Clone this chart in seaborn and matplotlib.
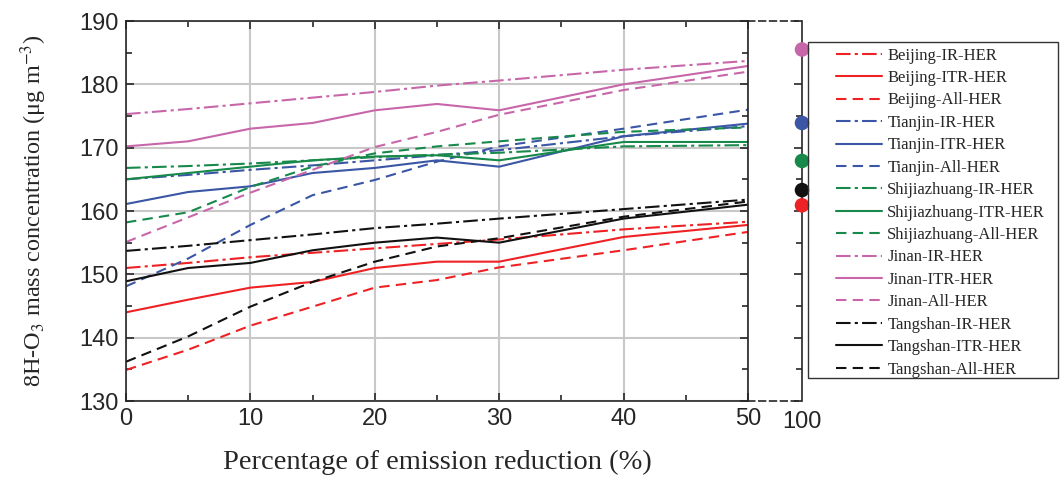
import numpy as np
import pandas as pd
import matplotlib
matplotlib.use("Agg")
import matplotlib.pyplot as plt
from matplotlib.patches import Rectangle
from matplotlib.ticker import MultipleLocator
import seaborn as sns

sns.set_style("ticks")
plt.rcParams['font.family'] = ['Liberation Serif', 'DejaVu Serif']
plt.rcParams['mathtext.fontset'] = 'stix'

# emission reduction (%)
reduction = [0, 5, 10, 15, 20, 25, 30, 40, 50]

beijing_ir = [151.0, 151.8, 152.7, 153.4, 154.1, 154.8, 155.5, 157.1, 158.3]
beijing_itr = [144.0, 146.0, 147.9, 148.8, 151.0, 152.0, 152.0, 155.9, 157.8]
beijing_all = [134.9, 138.1, 141.9, 144.9, 147.9, 149.1, 151.1, 153.8, 156.7]
tianjin_ir = [165.0, 165.7, 166.5, 167.2, 168.0, 168.8, 169.6, 171.8, 173.4]
tianjin_itr = [161.1, 163.0, 163.9, 166.0, 166.8, 168.0, 167.0, 171.8, 173.8]
tianjin_all = [148.1, 152.5, 157.8, 162.5, 164.9, 167.8, 170.2, 173.0, 176.0]
shijiazhuang_ir = [166.8, 167.1, 167.5, 168.0, 168.5, 168.9, 169.2, 170.2, 170.4]
shijiazhuang_itr = [165.0, 166.0, 167.0, 168.0, 168.6, 168.8, 168.0, 170.9, 170.9]
shijiazhuang_all = [158.2, 159.8, 163.8, 167.0, 169.1, 170.2, 171.0, 172.5, 173.2]
jinan_ir = [175.3, 176.1, 177.0, 177.9, 178.8, 179.8, 180.6, 182.3, 183.7]
jinan_itr = [170.2, 171.0, 173.0, 173.9, 175.9, 176.9, 175.9, 180.0, 182.9]
jinan_all = [155.1, 159.0, 162.9, 166.5, 170.1, 172.5, 175.2, 179.1, 182.0]
tangshan_ir = [153.7, 154.5, 155.4, 156.3, 157.3, 158.0, 158.8, 160.3, 161.8]
tangshan_itr = [148.9, 151.0, 151.8, 153.8, 155.0, 155.8, 155.0, 158.8, 161.0]
tangshan_all = [136.2, 140.2, 144.9, 148.8, 152.0, 154.4, 155.7, 159.1, 161.5]

# 100 % reduction
cities = ['Jinan', 'Tianjin', 'Shijiazhuang', 'Tangshan', 'Beijing']
full_reduction = [185.5, 173.9, 167.9, 163.3, 160.9]

colors = {'Beijing': '#ee2225', 'Tianjin': '#3a56a5', 'Shijiazhuang': '#17894a',
          'Jinan': '#c866aa', 'Tangshan': '#111111'}
styles = {'IR': (0, (7, 2, 1.5, 2)), 'ITR': '-', 'All': (0, (5, 3))}

series = [
    ('Beijing', 'IR', beijing_ir), ('Beijing', 'ITR', beijing_itr), ('Beijing', 'All', beijing_all),
    ('Tianjin', 'IR', tianjin_ir), ('Tianjin', 'ITR', tianjin_itr), ('Tianjin', 'All', tianjin_all),
    ('Shijiazhuang', 'IR', shijiazhuang_ir), ('Shijiazhuang', 'ITR', shijiazhuang_itr),
    ('Shijiazhuang', 'All', shijiazhuang_all),
    ('Jinan', 'IR', jinan_ir), ('Jinan', 'ITR', jinan_itr), ('Jinan', 'All', jinan_all),
    ('Tangshan', 'IR', tangshan_ir), ('Tangshan', 'ITR', tangshan_itr), ('Tangshan', 'All', tangshan_all),
]

W, H = 1060, 488
fig = plt.figure(figsize=(W / 100, H / 100), dpi=100)
ax = fig.add_axes([126 / W, 1 - 401 / H, (748 - 126) / W, (401 - 21) / H])
ax2 = fig.add_axes([748 / W, 1 - 401 / H, (802 - 748) / W, (401 - 21) / H])

for city, sc, vals in series:
    df = pd.DataFrame({'x': reduction, 'y': vals})
    sns.lineplot(data=df, x='x', y='y', ax=ax, color=colors[city], linestyle=styles[sc],
                 linewidth=1.5, errorbar=None, label=f'{city}-{sc}-HER')

ax.set_xlim(0, 50)
ax.set_ylim(130, 190)
ax.xaxis.set_major_locator(MultipleLocator(10))
ax.xaxis.set_minor_locator(MultipleLocator(5))
ax.yaxis.set_major_locator(MultipleLocator(10))
ax.yaxis.set_minor_locator(MultipleLocator(5))
ax.grid(True, which='major', color='#c8c8c8', linewidth=1.5)
ax.set_axisbelow(True)
ax.tick_params(which='both', direction='in', top=True, right=True, width=1.2,
               labelsize=17, pad=5)
ax.tick_params(which='major', length=6)
ax.tick_params(which='minor', length=4)
for lab in ax.get_xticklabels() + ax.get_yticklabels():
    lab.set_fontfamily('Liberation Sans')
for s in ax.spines.values():
    s.set_linewidth(1.2)
ax.set_xlabel('Percentage of emission reduction (%)', fontsize=20.5, labelpad=14)
ax.set_ylabel('8H-O$_3$ mass concentration (μg m$^{-3}$)', fontsize=17.5, labelpad=22)

handles, labels = ax.get_legend_handles_labels()
ax.get_legend().remove()

# right broken axis (100 %)
dots = pd.DataFrame({'x': [100] * len(cities), 'y': full_reduction, 'city': cities})
sns.scatterplot(data=dots, x='x', y='y', hue='city', palette=colors, s=110,
                edgecolor='none', ax=ax2, legend=False, clip_on=False, zorder=5)
ax2.set_xlim(95, 100)
ax2.set_ylim(130, 190)
ax2.set_xticks([100])
ax2.set_xticklabels(['100'])
ax2.yaxis.set_major_locator(MultipleLocator(10))
ax2.yaxis.set_minor_locator(MultipleLocator(5))
ax2.tick_params(axis='x', length=0, labelsize=17, pad=7)
ax2.tick_params(axis='y', which='both', direction='in', left=False, right=True,
                labelleft=False, width=1.2)
ax2.tick_params(axis='y', which='major', length=6)
ax2.tick_params(axis='y', which='minor', length=4)
for lab in ax2.get_xticklabels():
    lab.set_fontfamily('Liberation Sans')
ax2.set_xlabel('')
ax2.set_ylabel('')
ax2.spines['left'].set_visible(False)
ax2.spines['right'].set_linewidth(1.2)
for k in ['top', 'bottom']:
    ax2.spines[k].set_linestyle((0, (4, 2.5)))
    ax2.spines[k].set_linewidth(1.2)
ax2.patch.set_alpha(0)

# legend
fig.patches.append(Rectangle((808 / W, 1 - 378 / H), 250 / W, 336 / H,
                             transform=fig.transFigure, fill=False,
                             edgecolor='#333333', linewidth=1.0))
fig.legend(handles, labels, loc='upper left', bbox_to_anchor=(829 / W, 1 - 41 / H),
           frameon=False, fontsize=12, handlelength=2.75, handletextpad=0.35,
           labelspacing=0.385, borderaxespad=0, borderpad=0.4)

fig.savefig('out.png', dpi=100)
